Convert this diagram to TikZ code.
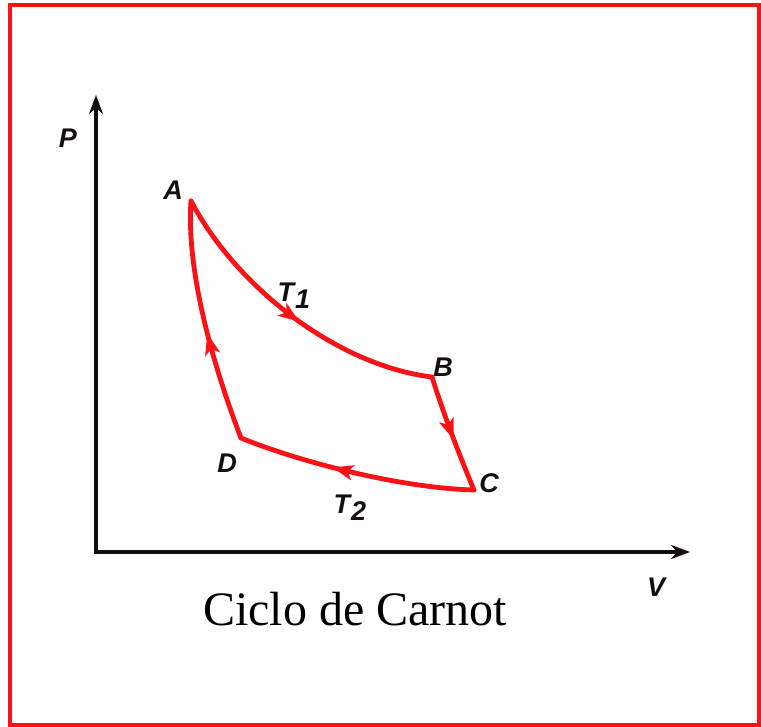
\documentclass[tikz,border=0pt]{standalone}
\usepackage{fontspec}
\setmainfont{Liberation Serif}
\newfontfamily\labfont{Liberation Sans}
\usetikzlibrary{arrows.meta,decorations.markings}
\definecolor{cred}{RGB}{250,18,22}
\definecolor{axblack}{RGB}{20,15,15}
\tikzset{
  frame/.style={draw=cred, line width=4.5},
  axis/.style={draw=axblack, line width=3.6, line join=miter, {Stealth[length=19,width=14]}-{Stealth[length=19,width=14]}},
  cyc/.style={draw=cred, line width=4.8, line cap=round, line join=round},
  midarrow/.style={postaction={decorate,decoration={markings,mark=at position #1 with {\arrow[cred]{Stealth[length=21,width=15,inset=5]}}}}},
  lab/.style={inner sep=0pt, font=\labfont\bfseries\itshape\fontsize{27}{30}\selectfont, text=axblack},
  title/.style={inner sep=0pt, font=\fontsize{48}{52}\selectfont}
}
\begin{document}
\begin{tikzpicture}[x=1pt,y=-1pt]
\useasboundingbox (0,0) rectangle (761,727);
\draw[frame] (10,5) rectangle (759,725);
% axes
\coordinate (O) at (96,552);
\coordinate (Ytip) at (96,95);
\coordinate (Xtip) at (690,552);
\draw[axis] (Ytip) -- (O) -- (Xtip);
% cycle points
\coordinate (A) at (191,201);
\coordinate (B) at (432,377);
\coordinate (C) at (474,490);
\coordinate (D) at (241,438);
\draw[cyc, midarrow=0.53] (A) .. controls (238,290) and (340,366) .. (B);
\draw[cyc, midarrow=0.55] (B) .. controls (443,412) and (458,452) .. (C);
\draw[cyc, midarrow=0.60] (C) .. controls (400,488) and (300,462) .. (D);
\draw[cyc, midarrow=0.45] (D) .. controls (214,368) and (186,272) .. (A);
% labels
\node[lab] (lP) at (68,138) {P};
\node[lab] (lV) at (656,587) {V};
\node[lab] (lA) at (173,190) {A};
\node[lab] (lB) at (443,367) {B};
\node[lab] (lC) at (489,483) {C};
\node[lab] (lD) at (227,463) {D};
\node[lab] (lT1) at (294,296) {T\kern1pt\raisebox{-7pt}{1}};
\node[lab] (lT2) at (350,508) {T\kern1pt\raisebox{-7pt}{2}};
\node[title, anchor=base] (title) at (355,625) {Ciclo de Carnot};
\end{tikzpicture}
\end{document}
